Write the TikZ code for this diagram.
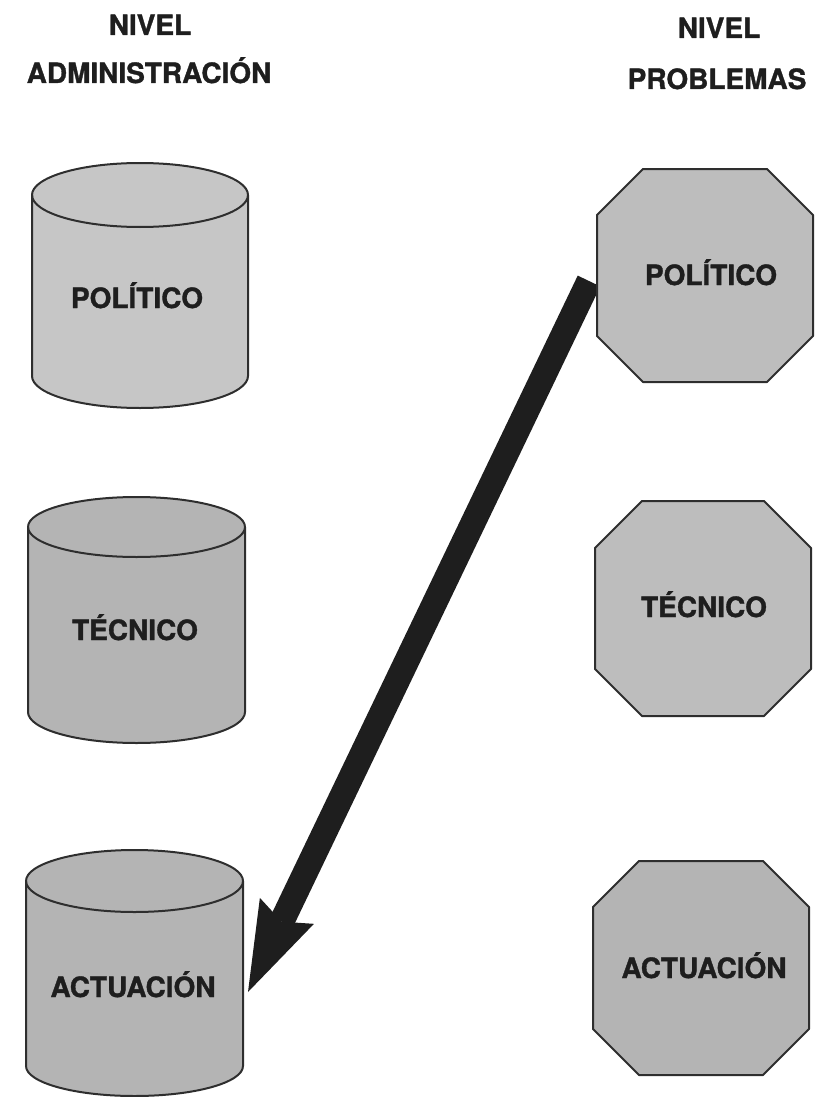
\documentclass[tikz,border=0pt]{standalone}
\usepackage{fontspec}
\setmainfont{TeX Gyre Heros}[BoldFeatures={FakeBold=1.2}]
\usetikzlibrary{arrows.meta}
\definecolor{edgecol}{HTML}{2E2E2E}
\definecolor{inkcol}{HTML}{1E1E1E}
\definecolor{filla}{HTML}{C6C6C6}
\definecolor{fillb}{HTML}{B4B4B4}
\definecolor{fillc}{HTML}{BDBDBD}
\tikzset{
  lbl/.style={anchor=base, inner sep=0pt, text=inkcol, font=\fontsize{14}{16}\selectfont\bfseries},
  shapeline/.style={draw=edgecol, line width=1pt, line join=round},
  bigarrow/.style={draw=inkcol, line width=12.5pt, line cap=butt,
    -{Stealth[length=45pt, width=30pt, inset=6pt, line width=0pt]}}
}
% cylinder: cx, rx, top centre y, bottom centre y, top ry, bottom ry, fill
\newcommand\drawcyl[7]{%
  \fill[#7] (#1-#2,#3) -- (#1-#2,#4) arc[start angle=180, end angle=360, x radius=#2, y radius=-#6]
    -- (#1+#2,#3) arc[start angle=0, end angle=180, x radius=#2, y radius=-#5] -- cycle;
  \draw[shapeline] (#1-#2,#3) -- (#1-#2,#4) arc[start angle=180, end angle=360, x radius=#2, y radius=-#6]
    -- (#1+#2,#3);
  \draw[shapeline] (#1,#3) ellipse[x radius=#2, y radius=#5];
}
% octagon: left, top, right, bottom, cut, fill
\newcommand\drawoct[6]{%
  \filldraw[shapeline, fill=#6] (#1+#5,#2) -- (#3-#5,#2) -- (#3,#2+#5) -- (#3,#4-#5)
    -- (#3-#5,#4) -- (#1+#5,#4) -- (#1,#4-#5) -- (#1,#2+#5) -- cycle;
}
\begin{document}
\begin{tikzpicture}[x=0.5pt, y=-0.5pt]
\useasboundingbox (0,0) rectangle (815,1097);

% headers
\node[lbl] (hA1) at (150,35) {NIVEL};
\node[lbl] (hA2) at (149,83) {ADMINISTRACIÓN};
\node[lbl] (hP1) at (719,38) {NIVEL};
\node[lbl] (hP2) at (717,89) {PROBLEMAS};

% cylinders (left)
\drawcyl{140}{108}{195}{376}{32}{32}{filla}
\drawcyl{136.5}{108.5}{527}{712}{30}{31}{fillb}
\drawcyl{134.5}{108.5}{881}{1066}{31}{30}{fillb}
\node[lbl] (cPol) at (137,308) {POLÍTICO};
\node[lbl] (cTec) at (135,640) {TÉCNICO};
\node[lbl] (cAct) at (133,997) {ACTUACIÓN};

% arrow
\coordinate (arrStart) at (589,281);
\coordinate (arrTip) at (248,992);
\draw[bigarrow] (arrStart) -- (arrTip);

% octagons (right)
\drawoct{597}{169}{813}{382}{46}{fillc}
\drawoct{595}{501}{811}{716}{47}{fillc}
\drawoct{593}{861}{809}{1075}{46}{fillb}
\node[lbl] (oPol) at (711,285) {POLÍTICO};
\node[lbl] (oTec) at (704,617) {TÉCNICO};
\node[lbl] (oAct) at (704,978) {ACTUACIÓN};
\end{tikzpicture}
\end{document}
